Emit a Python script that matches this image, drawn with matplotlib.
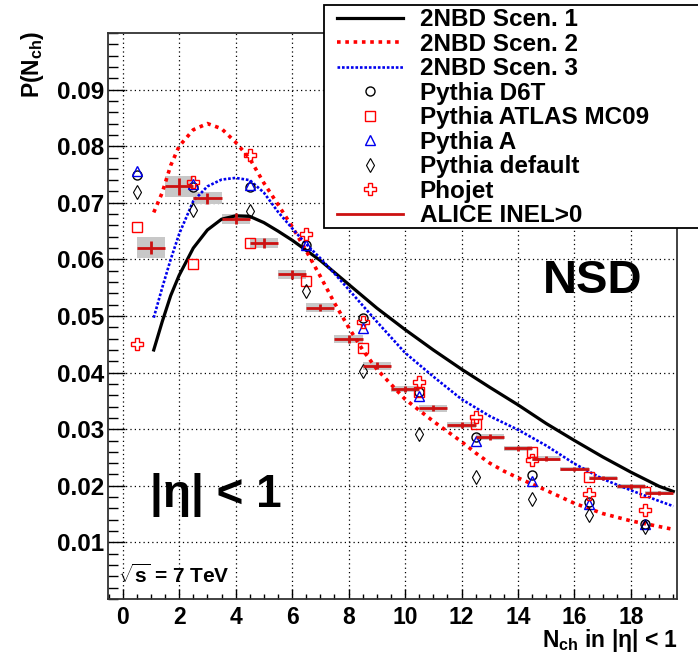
import matplotlib
matplotlib.use("Agg")
import matplotlib.pyplot as plt
from matplotlib.lines import Line2D
from matplotlib.patches import Rectangle
from matplotlib.ticker import MultipleLocator, FixedLocator, FixedFormatter

plt.rcParams['font.family'] = ['Liberation Sans', 'DejaVu Sans']
plt.rcParams['font.weight'] = 'bold'
plt.rcParams['mathtext.fontset'] = 'custom'
plt.rcParams['mathtext.rm'] = 'Liberation Sans:bold'
plt.rcParams['mathtext.bf'] = 'Liberation Sans:bold'
plt.rcParams['mathtext.it'] = 'Liberation Sans:bold'

# ---------------- data ----------------
# 2NBD curves
c1_x = [1.1, 1.4, 1.7, 2.0, 2.5, 3.0, 3.5, 4.0, 4.5, 5.0, 5.5, 6.0, 6.5, 7.0, 7.5, 8.0, 8.5,
        9.0, 9.5, 10.0, 11.0, 12.0, 13.0, 14.0, 15.0, 16.0, 17.0, 18.0, 19.0, 19.5]
c1_y = [0.0440, 0.0490, 0.0536, 0.0572, 0.0620, 0.0652, 0.0671, 0.0677, 0.0676, 0.0665,
        0.0650, 0.0634, 0.0616, 0.0598, 0.0577, 0.0556, 0.0535, 0.0514, 0.0495, 0.0476,
        0.0440, 0.0406, 0.0374, 0.0343, 0.0310, 0.0280, 0.0251, 0.0224, 0.0199, 0.0190]

c2_x = [1.1, 1.4, 1.7, 2.0, 2.5, 3.0, 3.5, 4.0, 4.5, 5.0, 5.5, 6.0, 6.5, 7.0, 7.5, 8.0,
        8.5, 9.0, 10.0, 11.0, 12.0, 12.5, 13.0, 13.5, 14.0, 15.0, 16.0, 17.0, 18.0, 19.0, 19.5]
c2_y = [0.0683, 0.0718, 0.0766, 0.0800, 0.0829, 0.0840, 0.0831, 0.0807, 0.0778, 0.0735,
        0.0697, 0.0658, 0.0615, 0.0570, 0.0523, 0.0480, 0.0440, 0.0406, 0.0353, 0.0314,
        0.0278, 0.0258, 0.0240, 0.0226, 0.0214, 0.0192, 0.0169, 0.0151, 0.0138, 0.0128, 0.0123]

c3_x = [1.1, 1.4, 1.7, 2.0, 2.5, 3.0, 3.5, 4.0, 4.5, 5.0, 5.5, 6.0, 6.5, 7.0, 7.5, 8.0,
        9.0, 10.0, 11.0, 12.0, 13.0, 14.0, 15.0, 16.0, 17.0, 18.0, 19.0, 19.5]
c3_y = [0.0497, 0.0550, 0.0600, 0.0645, 0.0703, 0.0729, 0.0741, 0.0744, 0.0740, 0.0718,
        0.0684, 0.0655, 0.0627, 0.0602, 0.0575, 0.0547, 0.0490, 0.0435, 0.0393, 0.0353,
        0.0323, 0.0299, 0.0271, 0.0239, 0.0212, 0.0192, 0.0173, 0.0164]

# MC generators
mc_x = [0.5, 2.5, 4.5, 6.5, 8.5, 10.5, 12.5, 14.5, 16.5, 18.5]
d6t = [0.0750, 0.0728, 0.0728, 0.0625, 0.0497, 0.0365, 0.0287, 0.0219, 0.0171, 0.0133]
mc09 = [0.0657, 0.0591, 0.0629, 0.0562, 0.0443, 0.0365, 0.0309, 0.0259, 0.0215, 0.0189]
pyA = [0.0757, 0.0733, 0.0732, 0.0626, 0.0479, 0.0359, 0.0280, 0.0209, 0.0167, 0.0132]
pydef = [0.0719, 0.0688, 0.0685, 0.0544, 0.0402, 0.0292, 0.0215, 0.0177, 0.0148, 0.0127]
phojet = [0.0450, 0.0737, 0.0784, 0.0644, 0.0490, 0.0383, 0.0321, 0.0245, 0.0186, 0.0157]

# ALICE data
alice_x = [1, 2, 3, 4, 5, 6, 7, 8, 9, 10, 11, 12, 13, 14, 15, 16, 17, 18, 19]
alice_y = [0.0621, 0.0729, 0.0708, 0.0672, 0.0629, 0.0574, 0.0515, 0.0460, 0.0412, 0.0371,
           0.0337, 0.0308, 0.0286, 0.0266, 0.0248, 0.0230, 0.0214, 0.0199, 0.0187]
alice_sys = [0.0019, 0.0019, 0.0011, 0.0009, 0.0009, 0.0008, 0.0008, 0.0007, 0.0007, 0.0006,
             0.0006, 0.0005, 0.0005, 0.0005, 0.0004, 0.0004, 0.0004, 0.0004, 0.0004]
alice_stat = [0.0012, 0.0015, 0.0010, 0.0010, 0.0008, 0.0008, 0.0007, 0.0007, 0.0006, 0.0006,
              0.0005, 0.0005, 0.0005, 0.0005, 0.0004, 0.0004, 0.0004, 0.0004, 0.0004]
alice_xerr = 0.5

x_ticks = [0, 2, 4, 6, 8, 10, 12, 14, 16, 18]
x_ticklabels = ['0', '2', '4', '6', '8', '10', '12', '14', '16', '18']
y_ticks = [0.01, 0.02, 0.03, 0.04, 0.05, 0.06, 0.07, 0.08, 0.09]
y_ticklabels = ['0.01', '0.02', '0.03', '0.04', '0.05', '0.06', '0.07', '0.08', '0.09']

# ---------------- figure ----------------
W, H = 698, 655
fig = plt.figure(figsize=(W / 100, H / 100), dpi=100)
ax = fig.add_axes([108 / W, 1 - 599 / H, (677 - 108) / W, (599 - 33) / H])
ax.set_xlim(-0.52, 19.63)
ax.set_ylim(0.0, 0.1)

red = '#ff0000'
dred = '#cc1111'
blue = '#0000ee'

# grid
ax.grid(True, which='major', color='black', linestyle=(0, (1, 2.5)), linewidth=0.9)
ax.set_axisbelow(True)

# ALICE systematic boxes
ax.bar(alice_x, [2 * s for s in alice_sys], bottom=[y - s for y, s in zip(alice_y, alice_sys)],
       width=2 * alice_xerr, color='#c8c8c8', edgecolor='none', zorder=2)

# curves
l1, = ax.plot(c1_x, c1_y, color='black', lw=2.3, zorder=3, label='2NBD Scen. 1')
l2, = ax.plot(c2_x, c2_y, color=red, lw=2.6, linestyle=(0, (1.0, 1.3)), zorder=3,
              label='2NBD Scen. 2')
l3, = ax.plot(c3_x, c3_y, color=blue, lw=1.9, linestyle=(0, (1.0, 0.7)), zorder=3,
              label='2NBD Scen. 3')

# MC markers
m1, = ax.plot(mc_x, d6t, 'o', ms=6.5, mfc='none', mec='black', mew=1.0, zorder=4,
              label='Pythia D6T')
m2, = ax.plot(mc_x, mc09, 's', ms=7, mfc='none', mec=red, mew=1.0, zorder=4,
              label='Pythia ATLAS MC09')
m3, = ax.plot(mc_x, pyA, '^', ms=7, mfc='none', mec=blue, mew=1.0, zorder=4,
              label='Pythia A')
m4, = ax.plot(mc_x, pydef, 'd', ms=7, mfc='none', mec='black', mew=0.8, zorder=4,
              label='Pythia default')
m5, = ax.plot(mc_x, phojet, 'P', ms=8, mfc='none', mec=red, mew=1.0, zorder=4,
              label='Phojet')

# ALICE crosses
ax.errorbar(alice_x, alice_y, xerr=alice_xerr, yerr=alice_stat, fmt='none',
            ecolor=dred, elinewidth=2.0, capsize=0, zorder=5)
alice_handle = Line2D([], [], color=dred, lw=2.0, label='ALICE INEL>0')

# ticks
ax.xaxis.set_major_locator(FixedLocator(x_ticks))
ax.xaxis.set_major_formatter(FixedFormatter(x_ticklabels))
ax.xaxis.set_minor_locator(MultipleLocator(0.5))
ax.yaxis.set_major_locator(FixedLocator(y_ticks))
ax.yaxis.set_major_formatter(FixedFormatter(y_ticklabels))
ax.yaxis.set_minor_locator(MultipleLocator(0.002))
ax.tick_params(axis='x', which='major', direction='in', length=7, width=1.0,
               labelsize=16.5, pad=5, top=False)
ax.tick_params(axis='x', which='minor', direction='in', length=3.5, width=1.0, top=False)
ax.tick_params(axis='y', which='major', direction='in', length=12, width=1.0,
               labelsize=17.5, pad=2.5, right=False)
ax.tick_params(axis='y', which='minor', direction='in', length=7, width=1.0, right=False)
for lab in ax.get_xticklabels() + ax.get_yticklabels():
    lab.set_fontweight('bold')
for sp in ax.spines.values():
    sp.set_linewidth(1.3)
    sp.set_color('#333333')

# texts
fig.text(543 / W, 1 - 293 / H, 'NSD', fontsize=34, fontweight='bold', ha='left', va='baseline')
fig.text(150 / W, 1 - 507 / H, '|η| < 1', fontsize=33, fontweight='bold', ha='left', va='baseline')
fig.text(118 / W, 1 - 583 / H, r'$\sqrt{s}$ = 7 TeV', fontsize=15, fontweight='bold',
         ha='left', va='baseline')

fig.text(33 / W, 1 - 31 / H, r'$\mathbf{P(N_{ch})}$', fontsize=16.5, rotation=90,
         ha='center', va='top')
fig.text(678 / W, 1 - 647 / H, r'$\mathbf{N_{ch}}$ in |η| < 1', fontsize=16.5,
         fontweight='bold', ha='right', va='baseline')

# legend box + legend
fig.add_artist(Rectangle((324 / W, 1 - 228 / H), (705 - 324) / W, (228 - 5) / H,
                         transform=fig.transFigure, facecolor='white', edgecolor='black',
                         linewidth=1.3, zorder=3))
handles = [l1, l2, l3, m1, m2, m3, m4, m5, alice_handle]
leg = fig.legend(handles=handles, loc='upper left',
                 bbox_to_anchor=(337 / W, 1 - 8.5 / H),
                 bbox_transform=fig.transFigure,
                 prop={'weight': 'bold', 'size': 17.5},
                 handlelength=2.7, handletextpad=0.7, labelspacing=0.06,
                 borderpad=0.0, borderaxespad=0.0, numpoints=1, frameon=False)
leg.set_zorder(5)

fig.savefig('out.png', dpi=100)
